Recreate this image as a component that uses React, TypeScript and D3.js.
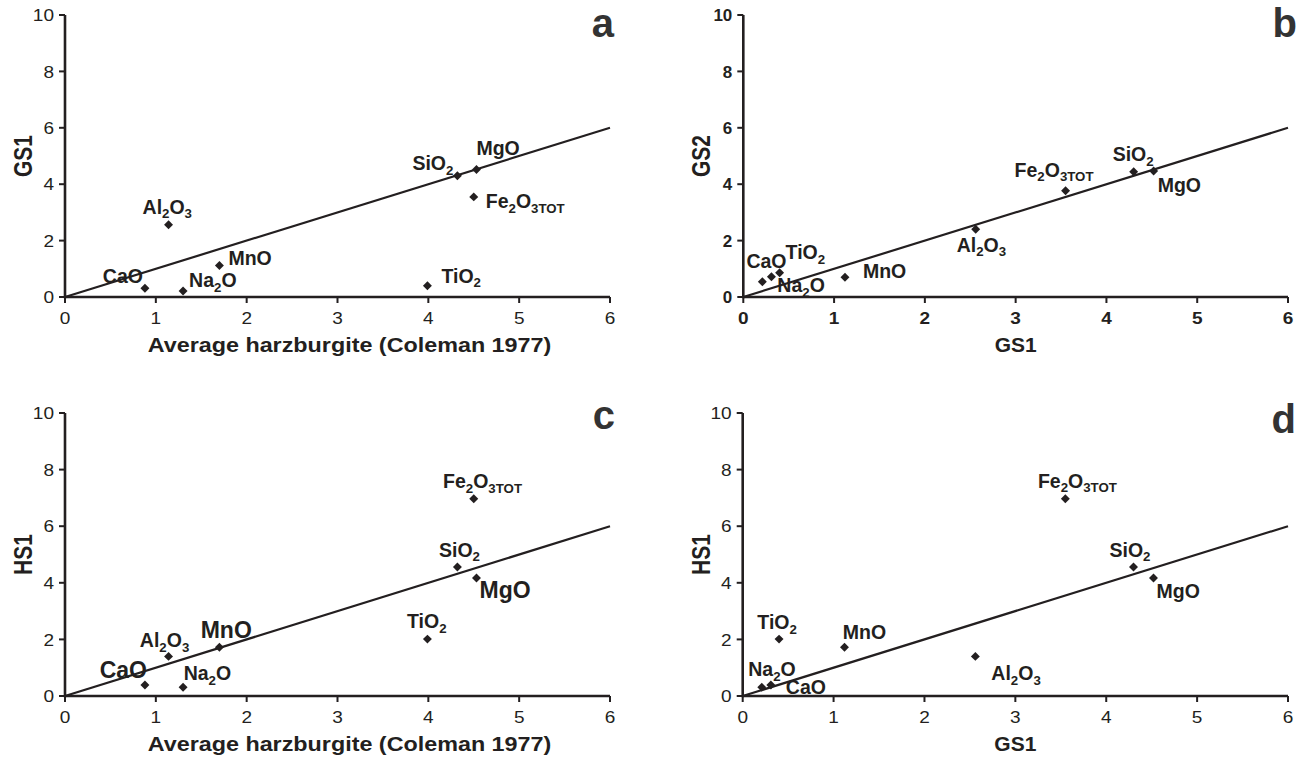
import React from 'react';
import * as d3 from 'd3';

// ---------- data ----------
const oxides = ["SiO2", "TiO2", "Al2O3", "Fe2O3TOT", "MnO", "MgO", "CaO", "Na2O"];
const averageHarzburgite = [4.32, 3.99, 1.14, 4.50, 1.70, 4.53, 0.88, 1.30];
const gs1 = [4.30, 0.40, 2.56, 3.55, 1.12, 4.52, 0.31, 0.21];
const gs2 = [4.44, 0.86, 2.40, 3.77, 0.70, 4.47, 0.72, 0.54];
const hs1 = [4.56, 2.01, 1.40, 6.97, 1.72, 4.17, 0.39, 0.31];
const xTickValues = [0, 1, 2, 3, 4, 5, 6];
const yTickValues = [0, 2, 4, 6, 8, 10];
const oneToOneLine = [0, 6];

// ---------- layout / style ----------
const INK = '#231f20';
const FONT = '"Liberation Sans", Arial, Helvetica, sans-serif';

type LabelPos = { dx: number; dy: number; anchor?: 'start' | 'end' | 'middle'; big?: boolean };

const panels = [
  {
    letter: 'a', xs: averageHarzburgite, ys: gs1,
    xTitle: 'Average harzburgite (Coleman 1977)', yTitle: 'GS1', xTitleShift: 12, xTitleScale: 1.167,
    left: 65, right: 610, top: 15, bottom: 297, boldTicks: false,
    letterPos: [614, 36.5],
    labels: {
      CaO: { dx: -2, dy: -5, anchor: 'end' },
      Na2O: { dx: 6, dy: -4 },
      Al2O3: { dx: -26, dy: -11 },
      MnO: { dx: 9, dy: 0 },
      TiO2: { dx: 14, dy: -3 },
      SiO2: { dx: -4, dy: -5.5, anchor: 'end' },
      MgO: { dx: 0, dy: -14.5 },
      Fe2O3TOT: { dx: 12, dy: 11 },
    } as Record<string, LabelPos>,
  },
  {
    letter: 'b', xs: gs1, ys: gs2,
    xTitle: 'GS1', yTitle: 'GS2', xTitleShift: 0, xTitleScale: 1.05,
    left: 743.3, right: 1288, top: 15, bottom: 297, boldTicks: true,
    letterPos: [1297, 37],
    labels: {
      CaO: { dx: -25, dy: -8.4 },
      TiO2: { dx: 6, dy: -13.4 },
      Na2O: { dx: 15, dy: 10.6 },
      MnO: { dx: 18, dy: 0.4 },
      Al2O3: { dx: -19, dy: 22.4 },
      Fe2O3TOT: { dx: -51, dy: -14 },
      SiO2: { dx: -21, dy: -10.7 },
      MgO: { dx: 4, dy: 20.7 },
    } as Record<string, LabelPos>,
  },
  {
    letter: 'c', xs: averageHarzburgite, ys: hs1,
    xTitle: 'Average harzburgite (Coleman 1977)', yTitle: 'HS1', xTitleShift: 12, xTitleScale: 1.167,
    left: 65, right: 610, top: 413, bottom: 696, boldTicks: false,
    letterPos: [615, 428.5],
    labels: {
      CaO: { dx: 2, dy: -6.7, anchor: 'end', big: true },
      Na2O: { dx: 0.6, dy: -7.3 },
      Al2O3: { dx: -28.7, dy: -9 },
      MnO: { dx: -18.7, dy: -9, big: true },
      TiO2: { dx: -20.4, dy: -10.7 },
      SiO2: { dx: -18.4, dy: -10.3 },
      MgO: { dx: 3, dy: 20.3, big: true },
      Fe2O3TOT: { dx: -30.7, dy: -10.4 },
    } as Record<string, LabelPos>,
  },
  {
    letter: 'd', xs: gs1, ys: hs1,
    xTitle: 'GS1', yTitle: 'HS1', xTitleShift: 0, xTitleScale: 1.05,
    left: 742.7, right: 1288, top: 413, bottom: 696, boldTicks: false,
    letterPos: [1296, 432.5],
    labels: {
      Na2O: { dx: -13.5, dy: -11 },
      CaO: { dx: 15, dy: 9 },
      TiO2: { dx: -21.7, dy: -9.7 },
      MnO: { dx: -1.7, dy: -8 },
      Al2O3: { dx: 16, dy: 23.7 },
      Fe2O3TOT: { dx: -27.4, dy: -11 },
      SiO2: { dx: -24, dy: -10.3 },
      MgO: { dx: 3, dy: 20.3 },
    } as Record<string, LabelPos>,
  },
];

// split a formula into normal / subscript pieces
function formulaParts(name: string): { t: string; sub: boolean }[] {
  if (name === 'Fe2O3TOT') return [{ t: 'Fe', sub: false }, { t: '2', sub: true }, { t: 'O', sub: false }, { t: '3TOT', sub: true }];
  const parts: { t: string; sub: boolean }[] = [];
  const re = /([A-Za-z]+)|(\d+)/g;
  let m;
  while ((m = re.exec(name))) {
    if (m[1]) parts.push({ t: m[1], sub: false });
    else parts.push({ t: m[2], sub: true });
  }
  return parts;
}

function Formula({ name, x, y, anchor, size }: { name: string; x: number; y: number; anchor: string; size: number }) {
  const parts = formulaParts(name);
  const shift = size * 0.24;
  let cur = 0;
  return (
    <text x={x} y={y} textAnchor={anchor} fontFamily={FONT} fontWeight="bold" fontSize={size} fill={INK}>
      {parts.map((p, i) => {
        const target = p.sub ? shift : 0;
        const dy = target - cur;
        cur = target;
        return (
          <tspan key={i} dy={dy} fontSize={p.sub ? size * 0.68 : size}>{p.t}</tspan>
        );
      })}
    </text>
  );
}

const diamond = d3.symbol().type(d3.symbolSquare).size(40)();

function Panel({ p }: { p: typeof panels[number] }) {
  const x = d3.scaleLinear().domain([0, 6]).range([p.left, p.right]);
  const y = d3.scaleLinear().domain([0, 10]).range([p.bottom, p.top]);
  const line = d3.line<number>().x(d => x(d)).y(d => y(d))(oneToOneLine) as string;
  const cx = (p.left + p.right) / 2 + p.xTitleShift;
  const cy = (p.top + p.bottom) / 2;
  return (
    <g>
      {/* 1:1 line */}
      <path d={line} fill="none" stroke={INK} strokeWidth={2.2} />
      {/* axes */}
      <line x1={x(0)} x2={x(6)} y1={y(0)} y2={y(0)} stroke={INK} strokeWidth={2.6} />
      <line x1={x(0)} x2={x(0)} y1={y(0) + 1.3} y2={y(10)} stroke={INK} strokeWidth={2.6} />
      {xTickValues.map(t => (
        <g key={'x' + t}>
          <line x1={x(t)} x2={x(t)} y1={y(0)} y2={y(0) + 6} stroke={INK} strokeWidth={2} />
          <text transform={`translate(${x(t)},${y(0) + 27}) scale(1.12,1)`} textAnchor="middle"
            fontFamily={FONT} fontSize={17} fontWeight={p.boldTicks ? 'bold' : 'normal'} fill={INK}>{t}</text>
        </g>
      ))}
      {yTickValues.map(t => (
        <g key={'y' + t}>
          <line x1={x(0) - 6} x2={x(0)} y1={y(t)} y2={y(t)} stroke={INK} strokeWidth={2} />
          <text transform={`translate(${x(0) - 11},${y(t)}) scale(${p.boldTicks ? 1 : 1.12},1)`} dy="0.36em" textAnchor="end"
            fontFamily={FONT} fontSize={17} fontWeight={p.boldTicks ? 'bold' : 'normal'} fill={INK}>{t}</text>
        </g>
      ))}
      {/* axis titles */}
      <text transform={`translate(${cx},${y(0) + 55}) scale(${p.xTitleScale},1)`} textAnchor="middle" fontFamily={FONT}
        fontWeight="bold" fontSize={20} fill={INK}>{p.xTitle}</text>
      <text transform={`translate(${x(0) - 33},${cy}) scale(1.25,1) rotate(-90)`} textAnchor="middle" fontFamily={FONT}
        fontWeight="bold" fontSize={21} fill={INK}>{p.yTitle}</text>
      {/* panel letter */}
      <text x={p.letterPos[0]} y={p.letterPos[1]} textAnchor="end" fontFamily={FONT} fontWeight="bold"
        fontSize={40} fill="#333333">{p.letter}</text>
      {/* points */}
      {oxides.map((o, i) => (
        <path key={'pt' + o} d={diamond} transform={`translate(${x(p.xs[i])},${y(p.ys[i])}) rotate(45)`} fill={INK} />
      ))}
      {oxides.map((o, i) => {
        const l = p.labels[o];
        return (
          <Formula key={'lb' + o} name={o} x={x(p.xs[i]) + l.dx} y={y(p.ys[i]) + l.dy}
            anchor={l.anchor || 'start'} size={l.big ? 23 : 19.5} />
        );
      })}
    </g>
  );
}

export default function App() {
  return (
    <svg width={1304} height={759} style={{ position: 'absolute', left: 0, top: 0, background: '#fff' }}>
      <rect width={1304} height={759} fill="#fff" />
      {panels.map(p => <Panel key={p.letter} p={p} />)}
    </svg>
  );
}
